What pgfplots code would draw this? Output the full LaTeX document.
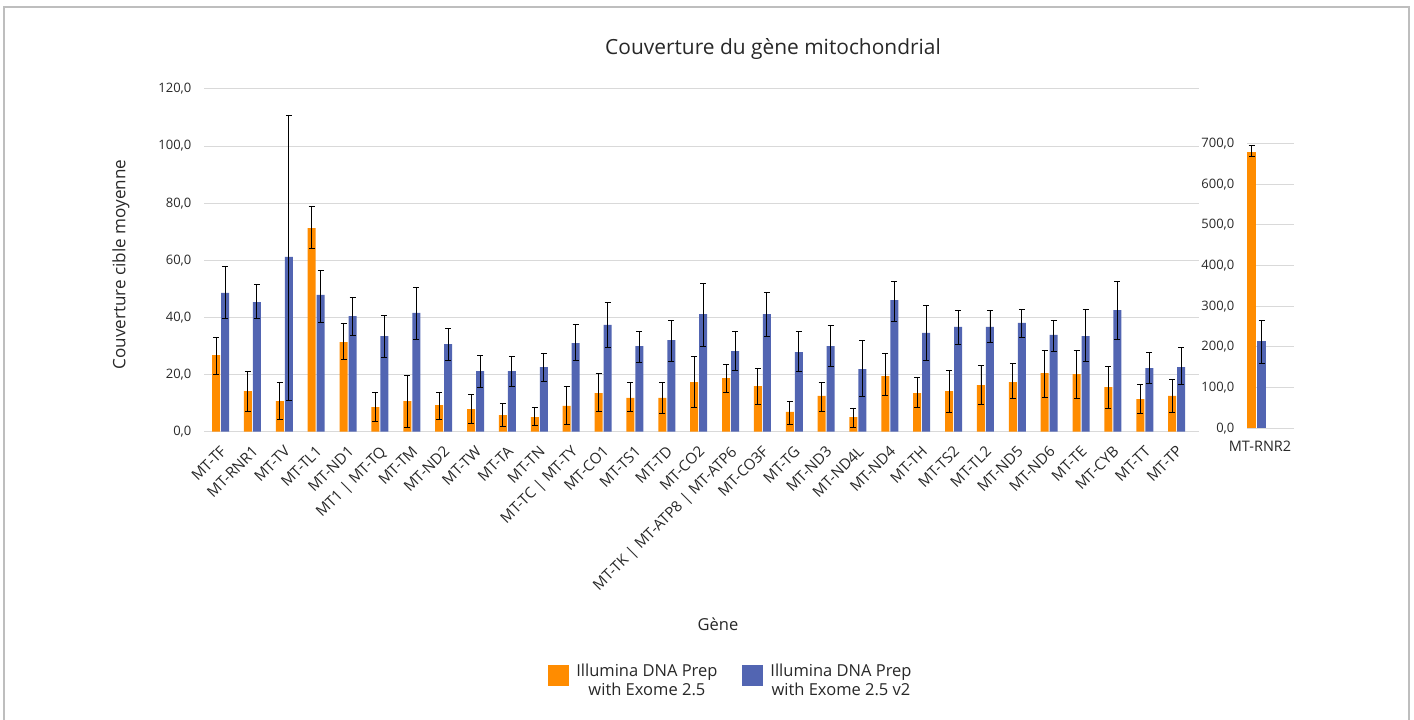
\documentclass[border=0pt]{standalone}
\usepackage{pgfplots}
\pgfplotsset{compat=1.18}
\usepackage{pgfplotstable}
\usepackage{fontspec}
\setmainfont{Open Sans}

\definecolor{prep}{RGB}{255,140,0}
\definecolor{prepvtwo}{RGB}{82,101,178}
\definecolor{gridc}{RGB}{217,217,217}
\definecolor{txt}{RGB}{40,40,40}
\definecolor{frame}{RGB}{190,190,190}

% mean coverage, error above, error below
\pgfplotstableread{
x y ep em
0 26.8 6.2 6.6
1 14.2 6.8 7.0
2 10.7 6.5 6.4
3 71.3 7.5 7.2
4 31.4 6.4 6.1
5 8.6 5.3 4.9
6 10.7 9.0 9.1
7 9.3 4.4 5.0
8 7.9 5.1 5.1
9 5.8 4.1 3.9
10 5.1 3.4 3.0
11 9.0 7.0 6.3
12 13.5 6.9 6.4
13 11.8 5.4 4.7
14 11.8 5.4 5.4
15 17.4 9.0 8.8
16 18.8 4.7 5.0
17 16.0 6.3 6.4
18 6.9 3.8 4.2
19 12.5 4.9 5.3
20 5.1 3.2 3.5
21 19.5 7.9 6.8
22 13.5 5.5 5.1
23 14.2 7.3 7.4
24 16.3 6.8 6.7
25 17.4 6.4 5.8
26 20.5 8.1 8.5
27 20.2 8.4 8.5
28 15.6 7.2 7.4
29 11.4 5.3 5.0
30 12.5 5.8 5.7
}\exomeA

\pgfplotstableread{
x y ep em
0 48.6 9.2 9.1
1 45.4 6.0 5.9
2 61.2 49.7 50.1
3 47.9 8.7 9.6
4 40.5 6.5 6.8
5 33.5 7.2 7.5
6 41.6 8.9 9.4
7 30.7 5.5 5.6
8 21.2 5.5 5.6
9 21.2 5.1 5.3
10 22.6 4.8 4.9
11 31.0 6.5 5.9
12 37.4 7.7 7.9
13 30.0 5.1 5.7
14 32.1 6.9 7.5
15 41.2 10.7 11.3
16 28.2 6.9 6.7
17 41.2 7.5 7.7
18 27.9 7.2 6.9
19 30.0 7.1 7.2
20 21.9 10.0 9.5
21 46.1 6.5 7.6
22 34.6 9.6 9.5
23 36.7 5.9 6.1
24 36.7 5.7 5.4
25 38.1 4.6 5.2
26 33.9 5.2 5.8
27 33.5 9.3 8.9
28 42.6 10.0 10.4
29 22.3 5.4 5.4
30 22.6 6.9 6.0
}\exomeB

% MT-RNR2 sits on its own scale
\pgfplotstableread{
x y ep em
0 680 16 12
}\rnrA
\pgfplotstableread{
x y ep em
0 215 51 56
}\rnrB

\pgfplotsset{
  covbase/.style={
    scale only axis,
    axis lines=left,
    axis line style={draw=none},
    tick style={draw=none},
    ymajorgrids,
    grid style={gridc, line width=1pt},
    ymin=0,
    ybar=1pt,
    every tick label/.append style={text=txt},
    yticklabel style={font=\fontsize{13}{15}\selectfont, xshift=-7pt},
    /pgf/number format/.cd, fixed, fixed zerofill, precision=1, use comma, 1000 sep={}, assume math mode=true,
  },
  errbars/.style={
    error bars/.cd, y dir=both, y explicit,
    error bar style={line width=0.9pt, black},
    error mark options={rotate=90, mark size=3pt, line width=0.9pt, black},
  },
  squarekey/.style={legend image code/.code={\fill[#1] (0pt,-6.5pt) rectangle (21pt,14.5pt);}},
}

\begin{document}
\begin{tikzpicture}[x=1pt,y=1pt]
\useasboundingbox (0pt,0pt) rectangle (1414pt,720pt);
\draw[frame, line width=1.2pt] (4pt,-2pt) -- (4pt,713pt) -- (1409pt,713pt) -- (1409pt,-2pt);

\node[text=txt, font=\fontsize{20.9}{24}\selectfont] at (773pt,671pt) {Couverture du gène mitochondrial};

\begin{axis}[
  covbase,
  at={(204pt,288.3pt)}, anchor=south west,
  width=995pt, height=342.7pt,
  xmin=-0.52, xmax=30.7,
  ymax=120, ytick={0,20,...,120},
  bar width=8pt,
  xtick={0,...,30},
  xticklabels={MT-TF,MT-RNR1,MT-TV,MT-TL1,MT-ND1,MT1 | MT-TQ,MT-TM,MT-ND2,MT-TW,MT-TA,MT-TN,MT-TC | MT-TY,MT-CO1,MT-TS1,MT-TD,MT-CO2,MT-TK | MT-ATP8 | MT-ATP6,MT-CO3F,MT-TG,MT-ND3,MT-ND4L,MT-ND4,MT-TH,MT-TS2,MT-TL2,MT-ND5,MT-ND6,MT-TE,MT-CYB,MT-TT,MT-TP},
  xticklabel style={font=\fontsize{15}{17}\selectfont, xshift=-1pt, yshift=-4pt, rotate=45, anchor=north east},
  ylabel={Couverture cible moyenne},
  ylabel style={at={(axis description cs:-0.0834,0.488)}, anchor=center, font=\fontsize{17.1}{19}\selectfont, text=txt},
  xlabel={Gène},
  xlabel style={at={(axis description cs:0.5166,-0.561)}, anchor=center, font=\fontsize{16.5}{18}\selectfont, text=txt},
  legend style={at={(axis description cs:0.5296,-0.7245)}, anchor=center, draw=none,
    font=\fontsize{16.5}{19}\selectfont, nodes={align=center, text=txt},
    /tikz/every odd column/.append style={column sep=5pt},
    /tikz/every even column/.append style={column sep=23pt}},
  legend columns=2,
]
\addplot[fill=prep, draw=none, squarekey=prep, errbars] table[x=x, y=y, y error plus=ep, y error minus=em] {\exomeA};
\addlegendentry{Illumina DNA Prep\\with Exome 2.5}
\addplot[fill=prepvtwo, draw=none, squarekey=prepvtwo, errbars] table[x=x, y=y, y error plus=ep, y error minus=em] {\exomeB};
\addlegendentry{Illumina DNA Prep\\with Exome 2.5 v2}
\end{axis}

\begin{axis}[
  covbase,
  at={(1247pt,291.7pt)}, anchor=south west,
  width=47pt, height=284.7pt,
  xmin=-9.5, xmax=37.5,
  ymax=700, ytick={0,100,...,700},
  bar width=9pt,
  xtick={0}, xticklabels={MT-RNR2},
  xticklabel style={font=\fontsize{14.5}{16}\selectfont, xshift=3.5pt, yshift=-5pt},
]
\addplot[fill=prep, draw=none, errbars] table[x=x, y=y, y error plus=ep, y error minus=em] {\rnrA};
\addplot[fill=prepvtwo, draw=none, errbars] table[x=x, y=y, y error plus=ep, y error minus=em] {\rnrB};
\end{axis}
\end{tikzpicture}
\end{document}
